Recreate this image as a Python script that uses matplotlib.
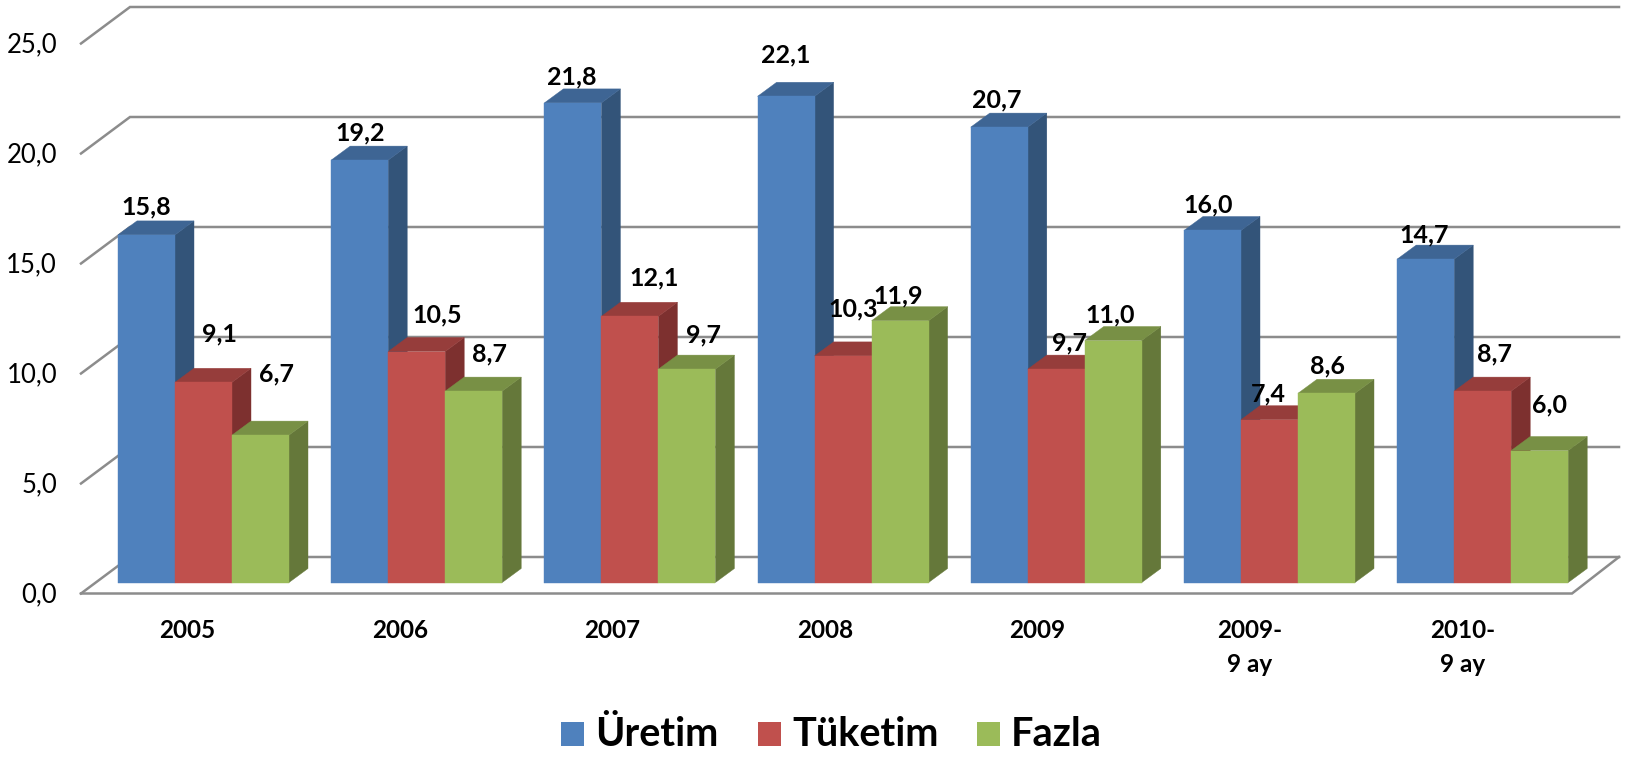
#!/usr/bin/env python3
"""Uretim / Tuketim / Fazla 3D-style clustered columns"""

import matplotlib
matplotlib.use('Agg')
import matplotlib.pyplot as plt
from matplotlib.patches import Rectangle

matplotlib.rcParams['font.family'] = ['Lato', 'DejaVu Sans']

# data
categories = ['2005', '2006', '2007', '2008', '2009', '2009-\n9 ay', '2010-\n9 ay']
series_names = ['Üretim', 'Tüketim', 'Fazla']
uretim = [15.8, 19.2, 21.8, 22.1, 20.7, 16.0, 14.7]
tuketim = [9.1, 10.5, 12.1, 10.3, 9.7, 7.4, 8.7]
fazla = [6.7, 8.7, 9.7, 11.9, 11.0, 8.6, 6.0]
y_ticks = [0, 5, 10, 15, 20, 25]

# layout: one category = 213 px, one value unit = 22 px
W, H = 1630, 757
PX_X, PX_Y = 213.2, 22.0
X0_PX, Y0_PX = 203.5, 582.5  # centre of first group, front base of bars
BAR_W = 57 / PX_X
DEPTH_X, DEPTH_Y = 19 / PX_X, 14 / PX_Y

# front faces, top and side shades per series
face_colors = ['#4F81BD', '#C0504D', '#9BBB59']
top_colors = ['#3E6594', '#963D3B', '#789045']
side_colors = ['#335479', '#7D302F', '#65783A']
GRID = '#8C8C8C'

# label offsets from the top centre of each bar's front, px (right, up)
label_off = [
    [(0, 28), (0, 27), (-1, 26), (0, 41), (-3, 27), (-4, 26), (-2, 24)],
    [(16, 48), (21, 37), (24, 38), (10, 47), (13, 26), (-1, 26), (12, 37)],
    [(16, 61), (16, 37), (17, 34), (-2, 25), (-3, 26), (1, 27), (10, 46)],
]


def px_x(px):
    return (px - X0_PX) / PX_X


def px_y(px):
    return (Y0_PX - px) / PX_Y


fig = plt.figure(figsize=(W / 100, H / 100), dpi=100, facecolor='white')
ax = fig.add_axes([0, 0, 1, 1])
ax.set_xlim(px_x(0), px_x(W))
ax.set_ylim(px_y(H), px_y(0))
ax.axis('off')

# back wall, floor
left_front, left_back = px_x(81), px_x(130)
right_front, right_back = px_x(1572), px_x(1619)
front_off, back_off = px_y(593.5), px_y(557)
for v in y_ticks:
    ax.plot([left_front, left_back, right_back],
            [v + front_off, v + back_off, v + back_off],
            color=GRID, lw=1.8, solid_joinstyle='miter', zorder=1)
    ax.text(px_x(57), v + front_off - 1 / PX_Y, f'{v:.1f}'.replace('.', ','),
            ha='right', va='center', fontsize=18.5, color='black')
ax.plot([left_front, right_front, right_back],
        [front_off, front_off, back_off],
        color=GRID, lw=1.8, solid_joinstyle='miter', zorder=1)

# columns
values = [uretim, tuketim, fazla]
for g, cat in enumerate(categories):
    for s in range(3):
        v = values[s][g]
        x0 = g + (s - 1.5) * BAR_W
        x1 = x0 + BAR_W
        ax.fill([x1, x1 + DEPTH_X, x1 + DEPTH_X, x1],
                [0, DEPTH_Y, v + DEPTH_Y, v],
                color=side_colors[s], lw=0.3, zorder=2)
        ax.fill([x0, x0 + DEPTH_X, x1 + DEPTH_X, x1],
                [v, v + DEPTH_Y, v + DEPTH_Y, v],
                color=top_colors[s], lw=0.3, zorder=2)
        ax.bar(x0, v, width=BAR_W, align='edge', color=face_colors[s],
               edgecolor=face_colors[s], lw=0.3, zorder=2)
        ax.annotate(f'{v:.1f}'.replace('.', ','), (x0 + BAR_W / 2, v),
                    xytext=label_off[s][g], textcoords='offset pixels',
                    ha='center', va='center', fontsize=18, fontweight='bold', zorder=5)
    # category labels run on a slightly tighter pitch than the columns
    ax.text(g * 212.5 / PX_X - 16 / PX_X, px_y(619), cat, ha='center', va='top',
            fontsize=17.5, fontweight='bold', linespacing=1.6)

# legend by hand so swatches and names land where they should
legend_x = [561, 758, 977]
for name, color, lx in zip(series_names, face_colors, legend_x):
    ax.add_patch(Rectangle((px_x(lx), px_y(746)), 23 / PX_X, 24 / PX_Y, color=color, lw=0))
    ax.text(px_x(lx + 34), px_y(746), name, ha='left', va='baseline',
            fontsize=28.5, fontweight='bold')

fig.savefig('out.png', dpi=100)
